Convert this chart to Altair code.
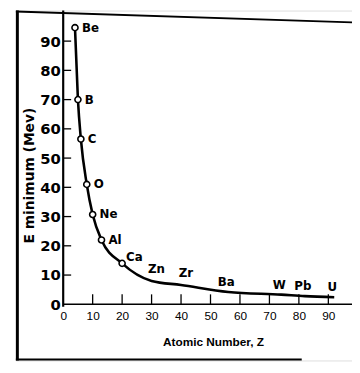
import altair as alt
import pandas as pd

# ---- data ----
elements = ["Be", "B", "C", "O", "Ne", "Al", "Ca", "Zn", "Zr", "Ba", "W", "Pb", "U"]
atomic_number = [4, 5, 6, 8, 10, 13, 20, 30, 40, 56, 74, 82, 92]
e_min = [94.6, 70, 56.5, 41, 30.7, 22, 14, 8.0, 6.6, 4.2, 3.3, 2.8, 2.4]
marked = [True, True, True, True, True, True, True,
          False, False, False, False, False, False]

x_tick_labels = [0, 10, 20, 30, 40, 50, 60, 70, 80, 90]
y_tick_labels = [0, 10, 20, 30, 40, 50, 60, 70, 80, 90]
x_ticks = [10, 20, 30, 40, 50, 60, 70, 80, 90]
y_ticks = [10, 20, 30, 40, 50, 60, 70, 80, 90]

# ---- layout ----
W, H = 341, 355
X_DOM = [-16.06, 98.03]
Y_DOM = [-19.21, 100.45]

df = pd.DataFrame({"el": elements, "Z": atomic_number, "E": e_min, "marked": marked})
xs = alt.Scale(domain=X_DOM, nice=False, zero=False)
ys = alt.Scale(domain=Y_DOM, nice=False, zero=False)

BOLD = "DejaVu Sans"

xaxis = alt.Axis(
    values=x_tick_labels, offset=-57, domain=False, ticks=False, grid=False,
    labelFont="Liberation Sans Narrow, Liberation Sans", labelFontSize=12,
    labelPadding=6, labelFlush=False, labelColor="black",
    title="Atomic Number, Z", titleFont="Liberation Sans", titleFontSize=12,
    titleFontWeight="bold", titleX=200, titleY=38, titleBaseline="middle",
    titleColor="black")
yaxis = alt.Axis(
    values=y_tick_labels, offset=-48, domain=False, ticks=False, grid=False,
    labelFont=BOLD, labelFontSize=15, labelFontWeight="bold", labelPadding=3,
    labelFlush=False, labelColor="black",
    title="E minimum (Mev)", titleFont=BOLD, titleFontSize=14,
    titleFontWeight="bold", titleX=-34, titleY=167, titleAngle=270,
    titleAlign="center", titleBaseline="middle", titleColor="black")


def X(f):
    return alt.X(f, scale=xs, axis=xaxis)


def Y(f):
    return alt.Y(f, scale=ys, axis=yaxis)


curve = alt.Chart(df).mark_line(color="black", strokeWidth=2.6, interpolate="monotone").encode(
    x=X("Z:Q"), y=Y("E:Q"))

points = alt.Chart(df).transform_filter("datum.marked").mark_point(
    shape="circle", filled=True, fill="white", stroke="black", strokeWidth=1.6,
    size=38, opacity=1).encode(x=X("Z:Q"), y=Y("E:Q"))

lab_marked = alt.Chart(df).transform_filter("datum.marked && datum.el != 'Ca'").mark_text(
    align="left", baseline="middle", dx=7, dy=0, font=BOLD, fontSize=12,
    fontWeight="bold", color="black").encode(x=X("Z:Q"), y=Y("E:Q"), text="el:N")

lab_ca = alt.Chart(df).transform_filter("datum.el == 'Ca'").mark_text(
    align="left", baseline="middle", dx=4, dy=-6, font=BOLD, fontSize=12,
    fontWeight="bold", color="black").encode(x=X("Z:Q"), y=Y("E:Q"), text="el:N")

lab_mid = alt.Chart(df).transform_filter("datum.el == 'Zn' || datum.el == 'Zr'").mark_text(
    align="center", baseline="middle", dx=5, dy=-12, font=BOLD, fontSize=12,
    fontWeight="bold", color="black").encode(x=X("Z:Q"), y=Y("E:Q"), text="el:N")

lab_tail = alt.Chart(df).transform_filter(
    "!datum.marked && datum.el != 'Zn' && datum.el != 'Zr'").mark_text(
    align="center", baseline="middle", dx=-2, dy=-10, font=BOLD, fontSize=12,
    fontWeight="bold", color="black").encode(x=X("Z:Q"), y=Y("E:Q"), text="el:N")

# axis lines
yaxis_line = alt.Chart(pd.DataFrame({"Z": [0], "E0": [-0.8], "E1": [Y_DOM[1]]})).mark_rule(
    color="black", strokeWidth=2.2).encode(x=X("Z:Q"), y=Y("E0:Q"), y2="E1:Q")
xaxis_line = alt.Chart(pd.DataFrame({"E": [0], "Z0": [0], "Z1": [X_DOM[1]]})).mark_rule(
    color="black", strokeWidth=1.5).encode(y=Y("E:Q"), x=X("Z0:Q"), x2="Z1:Q")

# tick marks (inward)
yt = alt.Chart(pd.DataFrame({"E": y_ticks})).transform_calculate(
    Z0="0", Z1="2.7").mark_rule(color="black", strokeWidth=1.3).encode(
    y=Y("E:Q"), x=X("Z0:Q"), x2="Z1:Q")
xt = alt.Chart(pd.DataFrame({"Z": x_ticks})).transform_calculate(
    E0="0", E1="3.4").mark_rule(color="black", strokeWidth=1.3).encode(
    x=X("Z:Q"), y=Y("E0:Q"), y2="E1:Q")

# outer frame of the scanned figure
frame_left = alt.Chart(pd.DataFrame({"a": [0]})).mark_rule(color="black", strokeWidth=3).encode(
    x=alt.value(1.5), y=alt.value(0), y2=alt.value(H))
frame_top = alt.Chart(pd.DataFrame({"a": [0]})).mark_rule(color="black", strokeWidth=2).encode(
    x=alt.value(0), x2=alt.value(W), y=alt.value(1), y2=alt.value(12))
frame_bottom = alt.Chart(pd.DataFrame({"a": [0]})).mark_rule(color="black", strokeWidth=2).encode(
    x=alt.value(0), x2=alt.value(290), y=alt.value(H - 1), y2=alt.value(H - 1))

chart = alt.layer(
    curve, frame_left, frame_top, frame_bottom, yaxis_line, xaxis_line, yt, xt,
    points, lab_marked, lab_ca, lab_mid, lab_tail
).properties(
    width=W, height=H,
    autosize=alt.AutoSizeParams(type="none"),
    padding={"left": 8, "top": 0, "right": 0, "bottom": 2},
).configure_view(stroke=None).configure(background="white")

chart.save("out.html", embed_options={"renderer": "svg", "actions": False})
